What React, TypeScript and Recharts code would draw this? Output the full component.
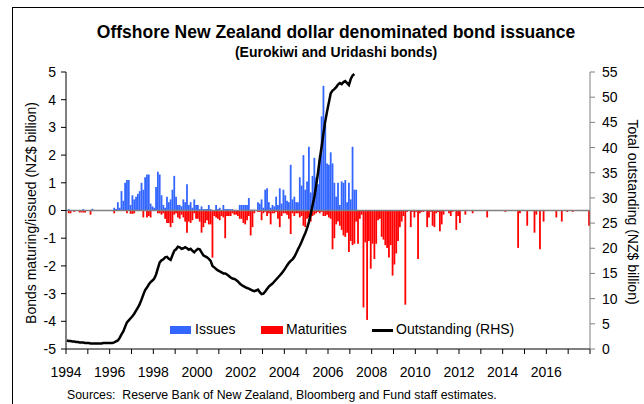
import React from "react";
import { ComposedChart, Bar, Line, XAxis, YAxis, ReferenceLine } from "recharts";

const FONT = '"Liberation Sans", Arial, Helvetica, sans-serif';

// monthly, Jan 1994 onward (NZ$ billion)
const issues = [
  0, 0.05, 0, 0, 0, 0, 0, 0, 0, 0.05, 0, 0, // 1994
  0, 0, 0.06, 0, 0, 0, 0, 0, 0, 0, 0, 0, // 1995
  0, 0, 0.1, 0.05, 0.3, 0.1, 0.7, 0.35, 1.0, 1.1, 1.1, 0.2, // 1996
  0.55, 0.4, 0.5, 0.6, 0.7, 1.0, 0.75, 1.2, 1.3, 1.3, 0.25, 0.15, // 1997
  0.1, 0.85, 1.4, 1.3, 0.55, 0.2, 0.1, 0.5, 0.3, 0.4, 0.75, 1.25, // 1998
  0.5, 0.2, 0.2, 0.15, 0.4, 0.3, 0.95, 0.2, 0.3, 0.1, 0.4, 0.2, // 1999
  0.2, 0.05, 0.15, 0.05, 0.05, 0.05, 0.2, 0.05, 0, 0, 0.2, 0.05, // 2000
  0.1, 0, 0.2, 0.05, 0.05, 0.05, 0.05, 0.05, 0, 0, 0, 0.2, // 2001
  0.2, 0.2, 0.2, 0.2, 0.45, 0.03, 0.03, 0.03, 0, 0.3, 0.25, 0.4, // 2002
  0.1, 0.75, 0.8, 0.3, 0.1, 0.2, 0.15, 0.5, 0.2, 0.8, 0.25, 0.75, // 2003
  0.55, 0.35, 0.3, 1.65, 0.4, 0.5, 0.3, 0.3, 1.2, 0.9, 2.0, 0.75, // 2004
  1.05, 2.3, 0.65, 1.25, 1.9, 1.2, 0.95, 2.0, 3.4, 4.5, 3.1, 1.7, // 2005
  1.65, 2.1, 1.7, 1.0, 0.5, 1.0, 0.2, 1.05, 1.0, 1.1, 0.3, 1.0, // 2006
  0.4, 2.3, 0.75, 0.75, // 2007
];

const maturities = [
  -0.02, -0.1, -0.1, 0, -0.05, 0, 0, -0.07, -0.07, -0.07, -0.07, 0, // 1994
  0, -0.15, 0, 0, 0, 0, 0, 0, 0, 0, 0, 0, // 1995
  0, 0, -0.1, 0, 0, 0, 0, 0, 0, -0.1, 0, -0.12, // 1996
  -0.12, -0.1, 0, 0, 0, 0, -0.25, 0, -0.25, -0.2, -0.25, 0, // 1997
  0, 0, -0.1, -0.1, -0.15, -0.1, -0.3, -0.45, -0.45, -0.6, -0.45, -0.15, // 1998
  -0.1, -0.25, -0.3, -0.15, -0.25, -0.4, -0.8, -0.4, -0.45, -0.35, -0.1, -0.3, // 1999
  -0.3, -0.4, -0.8, -0.6, -0.45, -0.35, -0.5, -0.5, -1.7, -0.2, -0.25, -0.3, // 2000
  -0.35, -0.2, -0.25, -1.0, -0.2, -0.2, -0.2, -0.1, -0.15, -0.15, -0.2, -0.3, // 2001
  -0.3, -0.45, -0.5, -0.35, -0.2, -0.9, -0.6, -0.1, 0, -0.05, -0.05, -0.35, // 2002
  -0.1, -0.05, -0.2, -0.1, -0.5, -0.1, -0.1, -0.05, -0.3, -0.6, -0.2, -0.1, // 2003
  -0.1, -0.15, -0.3, -0.85, -0.1, -0.2, -0.1, -0.1, -0.25, -0.2, -0.55, -0.6, // 2004
  -0.3, -0.25, -0.4, -0.2, -0.15, -0.1, -0.05, -0.1, -0.05, -0.2, -0.2, -0.15, // 2005
  -0.25, -0.3, -1.4, -1.0, -0.5, -0.4, -0.55, -0.7, -0.9, -0.95, -0.8, -1.5, // 2006
  -1.1, -1.25, -1.2, -0.4, -1.2, -0.3, -0.15, -3.5, -1.15, -3.95, -1.1, -2.1, // 2007
  -1.2, -1.75, -1.2, -0.35, -0.3, -0.95, -1.05, -1.25, -1.35, -1.7, -1.25, -2.35, // 2008
  -1.95, -1.55, -1.1, -0.6, -0.4, -0.2, -3.4, -0.05, 0, -0.6, -0.05, -0.25, // 2009
  -0.05, -1.75, -0.1, -0.05, -0.05, 0, -0.6, -0.25, -0.05, -0.55, -0.6, -0.1, // 2010
  -0.05, -0.75, -0.5, -0.15, 0, 0, -0.1, -0.2, -0.05, 0, -0.7, -0.2, // 2011
  -0.45, 0, 0, -0.15, 0, 0, 0, -0.1, 0, 0, 0, 0, // 2012
  0, 0, 0, -0.25, 0, 0, 0, 0, 0, 0, 0, 0, // 2013
  0, -0.05, 0, 0, 0, 0, 0, 0, -1.35, -0.1, 0, 0, // 2014
  0, -0.55, 0, 0, 0, -0.8, -0.15, 0, -1.4, 0, -0.4, 0, // 2015
  0, 0, 0, 0, 0, -0.25, 0, 0, -0.4, 0, 0, -0.05, // 2016
  0, 0, -0.05, 0, 0, 0, 0, 0, 0, 0, 0, -0.55, // 2017
];

// total outstanding, RHS
const outstanding = [
  1.7, 1.6, 1.6, 1.5, 1.5, 1.4, 1.4, 1.3, 1.3, 1.3, 1.2, 1.2, // 1994
  1.2, 1.1, 1.1, 1.1, 1.1, 1.1, 1.1, 1.1, 1.2, 1.2, 1.2, 1.2, // 1995
  1.2, 1.2, 1.3, 1.5, 1.7, 2.2, 2.9, 3.5, 4.4, 5.3, 5.7, 6.1, // 1996
  6.5, 7.0, 7.6, 8.2, 8.9, 9.8, 10.8, 11.7, 12.2, 12.8, 13.3, 13.6, // 1997
  14.0, 14.8, 16.0, 17.2, 17.6, 17.8, 18.2, 18.3, 17.9, 17.7, 18.6, 19.5, // 1998
  19.8, 20.3, 20.2, 19.9, 20.0, 20.2, 20.0, 19.7, 19.9, 19.5, 19.2, 19.6, // 1999
  19.9, 19.8, 19.2, 18.6, 18.4, 18.2, 17.9, 17.5, 16.5, 16.2, 15.9, 15.6, // 2000
  15.4, 15.2, 15.0, 15.0, 14.8, 14.5, 14.2, 14.0, 13.9, 13.7, 13.4, 13.0, // 2001
  12.7, 12.5, 12.3, 12.1, 12.0, 11.8, 11.6, 11.5, 11.6, 11.8, 11.3, 10.9, // 2002
  11.0, 11.4, 11.9, 12.4, 12.7, 13.0, 13.4, 13.8, 14.2, 14.6, 15.0, 15.5, // 2003
  16.0, 16.6, 17.1, 17.5, 17.8, 18.3, 19.0, 19.8, 20.5, 21.3, 22.2, 23.0, // 2004
  24.0, 25.2, 26.8, 28.5, 30.2, 32.5, 35.0, 37.8, 40.2, 42.8, 45.2, 47.2, // 2005
  49.0, 50.8, 51.3, 51.6, 52.0, 52.5, 52.8, 52.6, 53.0, 53.2, 52.8, 52.4, // 2006
  53.6, 54.3, 54.6, // 2007
];

const yearTicks = Array.from({ length: 25 }, (_, i) => 1994 + i);
const leftTicks = [-5, -4, -3, -2, -1, 0, 1, 2, 3, 4, 5];
const rightTicks = [0, 5, 10, 15, 20, 25, 30, 35, 40, 45, 50, 55];

const data = maturities.map((m, i) => ({
  x: 1994 + (i + 0.5) / 12,
  issues: issues[i] ?? 0,
  maturities: m,
  outstanding: outstanding[i] ?? null,
}));

const abs = (extra: React.CSSProperties): React.CSSProperties => ({ position: "absolute", ...extra });

export default function App() {
  return (
    <div
      style={{
        position: "fixed",
        left: 0,
        top: 0,
        width: 644,
        height: 404,
        overflow: "hidden",
        background: "#fff",
        fontFamily: FONT,
        color: "#000",
      }}
    >
      <div style={abs({ left: 12, top: 7, width: 700, height: 500, borderLeft: "1.5px solid #000", borderTop: "1.5px solid #000" })} />

      <div style={abs({ left: 0, top: 22, width: 672, textAlign: "center", fontWeight: "bold", fontSize: 17.5 })}>
        Offshore New Zealand dollar denominated bond issuance
      </div>
      <div style={abs({ left: 0, top: 44, width: 672, textAlign: "center", fontWeight: "bold", fontSize: 14 })}>
        (Eurokiwi and Uridashi bonds)
      </div>

      <div style={abs({ left: 0, top: 0 })}>
        <ComposedChart
          width={644}
          height={404}
          data={data}
          stackOffset="sign"
          margin={{ top: 72, right: 0, bottom: 25, left: 0 }}
          style={{ fontFamily: FONT }}
        >
          <XAxis
            dataKey="x"
            type="number"
            scale="linear"
            domain={[1994, 2018]}
            ticks={yearTicks}
            interval={0}
            tickFormatter={(v: number) => (v % 2 === 0 && v <= 2016 ? String(v) : "")}
            height={30}
            tickSize={5}
            tickMargin={13}
            axisLine={{ stroke: "#000" }}
            tickLine={{ stroke: "#000" }}
            tick={{ fill: "#000", fontSize: 14 }}
          />
          <YAxis
            yAxisId="left"
            domain={[-5, 5]}
            ticks={leftTicks}
            interval={0}
            width={66}
            tickSize={5}
            tickMargin={5}
            axisLine={{ stroke: "#000" }}
            tickLine={{ stroke: "#000" }}
            tick={{ fill: "#000", fontSize: 14 }}
          />
          <YAxis
            yAxisId="right"
            orientation="right"
            domain={[0, 55]}
            ticks={rightTicks}
            interval={0}
            width={54}
            tickSize={5}
            tickMargin={7}
            axisLine={{ stroke: "#808080" }}
            tickLine={{ stroke: "#808080" }}
            tick={{ fill: "#000", fontSize: 14 }}
          />
          <Bar dataKey="issues" yAxisId="left" stackId="flow" fill="#3366FF" barSize={1.8} isAnimationActive={false} />
          <Bar dataKey="maturities" yAxisId="left" stackId="flow" fill="#FF0000" barSize={1.8} isAnimationActive={false} />
          <ReferenceLine y={0} yAxisId="left" stroke="#808080" strokeWidth={1.5} />
          <Line
            dataKey="outstanding"
            yAxisId="right"
            type="linear"
            stroke="#000"
            strokeWidth={2.5}
            dot={false}
            activeDot={false}
            connectNulls={false}
            isAnimationActive={false}
          />
        </ComposedChart>
      </div>

      {/* legend */}
      <div style={abs({ left: 170, top: 326, width: 21, height: 8, background: "#3366FF" })} />
      <div style={abs({ left: 195, top: 321, fontSize: 14 })}>Issues</div>
      <div style={abs({ left: 261, top: 326, width: 22, height: 8, background: "#FF0000" })} />
      <div style={abs({ left: 286, top: 321, fontSize: 14 })}>Maturities</div>
      <div style={abs({ left: 372, top: 329, width: 21, height: 3, background: "#000" })} />
      <div style={abs({ left: 396, top: 321, fontSize: 14 })}>Outstanding (RHS)</div>

      {/* axis titles */}
      <div
        style={abs({
          left: 31,
          top: 213,
          transform: "translate(-50%, -50%) rotate(-90deg)",
          whiteSpace: "nowrap",
          fontSize: 14,
        })}
      >
        Bonds maturing/issued (NZ$ billion)
      </div>
      <div
        style={abs({
          left: 633,
          top: 212,
          transform: "translate(-50%, -50%) rotate(90deg)",
          whiteSpace: "nowrap",
          fontSize: 14,
        })}
      >
        Total outstanding (NZ$ billion)
      </div>

      <div style={abs({ left: 67, top: 388, fontSize: 12.3, whiteSpace: "nowrap" })}>
        Sources:&nbsp;&nbsp;Reserve Bank of New Zealand, Bloomberg and Fund staff estimates.
      </div>
    </div>
  );
}
